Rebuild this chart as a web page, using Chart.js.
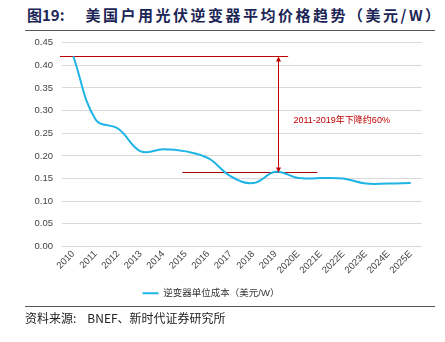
<!DOCTYPE html>
<html>
<head>
<meta charset="utf-8">
<script src="https://cdn.jsdelivr.net/npm/chart.js@4.4.1/dist/chart.umd.min.js"></script>
<style>
  html, body { margin: 0; padding: 0; background: #fff; }
  body { width: 445px; height: 342px; position: relative; overflow: hidden; font-family: "Noto Sans CJK SC", sans-serif; }
  .titulo { position: absolute; left: 27px; top: 4px; font-size: 15px; font-weight: bold; color: #1c2656; white-space: nowrap; }
  .titulo span { margin-left: 21px; letter-spacing: 2.5px; }
  .regla { position: absolute; left: 25px; width: 410px; height: 0; border-top: 1.5px solid #555; }
  .fuente { position: absolute; left: 25px; top: 309px; font-size: 12px; color: #222; white-space: nowrap; }
  .fuente span { margin-left: 11px; }
  .grafica { position: absolute; left: 0; top: 28px; width: 445px; height: 280px; }
</style>
</head>
<body>
<div class="titulo">图19:<span>美国户用光伏逆变器平均价格趋势（美元/W）</span></div>
<div class="regla" style="top:30px"></div>
<div class="grafica"><canvas id="GraficaPrecio"></canvas></div>
<div class="regla" style="top:306px"></div>
<div class="fuente">资料来源:<span>BNEF、新时代证券研究所</span></div>
<script>
var anios = ['2010','2011','2012','2013','2014','2015','2016','2017','2018','2019','2020E','2021E','2022E','2023E','2024E','2025E'];
var costos = [0.42, 0.28, 0.26, 0.21, 0.215, 0.21, 0.195, 0.155, 0.14, 0.165, 0.151, 0.151, 0.15, 0.139, 0.139, 0.14];
var ticksY = [0, 0.05, 0.10, 0.15, 0.20, 0.25, 0.30, 0.35, 0.40, 0.45];
var nombreSerie = '逆变器单位成本（美元/W）';
var textoBaja = '2011-2019年下降约60%';

function px(v) { return Math.round(v) + 0.5; }

// lineas rojas de referencia 2010 / 2019 (debajo de la serie) y flecha doble encima
var Referencias = {
    id: 'referencias',
    beforeDatasetsDraw: function (chart) {
        var ctx = chart.ctx, x = chart.scales.x, y = chart.scales.y;
        var yAlto = px(y.getPixelForValue(costos[0]));
        var yBajo = px(y.getPixelForValue(costos[9]));
        ctx.save();
        ctx.lineWidth = 1;
        ctx.strokeStyle = '#c00000';
        ctx.beginPath();
        ctx.moveTo(chart.chartArea.left - 2, yAlto);
        ctx.lineTo(x.getPixelForValue(9.55), yAlto);
        ctx.stroke();
        ctx.strokeStyle = '#a80000';
        ctx.beginPath();
        ctx.moveTo(x.getPixelForValue(4.85), yBajo);
        ctx.lineTo(x.getPixelForValue(10.85), yBajo);
        ctx.stroke();
        ctx.restore();
    },
    afterDatasetsDraw: function (chart) {
        var ctx = chart.ctx, x = chart.scales.x, y = chart.scales.y;
        var yAlto = px(y.getPixelForValue(costos[0]));
        var yBajo = px(y.getPixelForValue(costos[9]));
        var xFlecha = px(x.getPixelForValue(9.1));
        ctx.save();
        ctx.strokeStyle = '#c00000';
        ctx.fillStyle = '#c00000';
        ctx.lineWidth = 1;
        ctx.beginPath();
        ctx.moveTo(xFlecha, yAlto + 2);
        ctx.lineTo(xFlecha, yBajo - 2);
        ctx.stroke();
        ctx.beginPath();
        ctx.moveTo(xFlecha, yAlto);
        ctx.lineTo(xFlecha - 2.5, yAlto + 5);
        ctx.lineTo(xFlecha + 2.5, yAlto + 5);
        ctx.closePath();
        ctx.fill();
        ctx.beginPath();
        ctx.moveTo(xFlecha, yBajo);
        ctx.lineTo(xFlecha - 2.5, yBajo - 5);
        ctx.lineTo(xFlecha + 2.5, yBajo - 5);
        ctx.closePath();
        ctx.fill();
        ctx.font = '9px "Liberation Sans", "Noto Sans CJK SC", sans-serif';
        ctx.textBaseline = 'middle';
        ctx.fillText(textoBaja, xFlecha + 15, y.getPixelForValue(0.278));
        ctx.restore();
    }
};

var ctx = document.getElementById('GraficaPrecio');
var grafica = new Chart(ctx, {
    type: 'line',
    data: {
        labels: anios,
        datasets: [{
            label: nombreSerie,
            data: costos,
            borderColor: '#1fb4e6',
            backgroundColor: '#1fb4e6',
            borderWidth: 2,
            pointRadius: 0,
            tension: 0.4,
            fill: false
        }]
    },
    options: {
        responsive: true,
        maintainAspectRatio: false,
        animation: false,
        layout: { padding: { top: 1, right: 23, left: 0, bottom: 0 } },
        plugins: {
            tooltip: { enabled: false },
            legend: {
                position: 'bottom',
                labels: {
                    boxWidth: 16,
                    boxHeight: 2,
                    padding: 4,
                    color: '#333',
                    font: { size: 9.5, family: '"Liberation Sans", "Noto Sans CJK SC", sans-serif' },
                    generateLabels: function (chart) {
                        var items = Chart.defaults.plugins.legend.labels.generateLabels(chart);
                        items.forEach(function (it) { it.lineWidth = 0; });
                        return items;
                    }
                }
            }
        },
        scales: {
            x: {
                offset: true,
                grid: { display: false, drawTicks: false },
                border: { display: false },
                ticks: {
                    color: '#444',
                    maxRotation: 45,
                    minRotation: 45,
                    padding: 2,
                    font: { size: 9.5, family: '"Liberation Sans", sans-serif' }
                },
                afterFit: function (scale) { scale.height = 38; }
            },
            y: {
                min: 0,
                max: 0.45,
                afterBuildTicks: function (scale) {
                    scale.ticks = ticksY.map(function (v) { return { value: v }; });
                },
                grid: { color: '#d9d9d9', lineWidth: 1, drawTicks: false },
                border: { display: false },
                ticks: {
                    color: '#444',
                    padding: 9,
                    font: { size: 9.5, family: '"Liberation Sans", sans-serif' },
                    callback: function (v) { return Number(v).toFixed(2); }
                },
                afterFit: function (scale) { scale.width = 62; }
            }
        }
    },
    plugins: [Referencias]
});
</script>
</body>
</html>
